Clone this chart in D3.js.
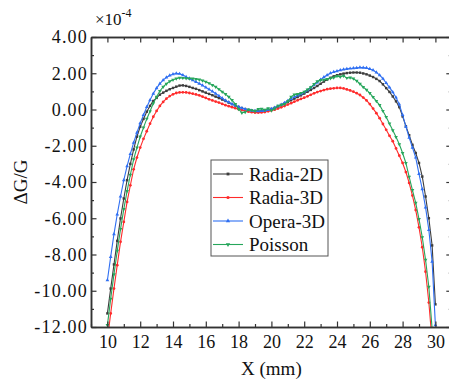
<!DOCTYPE html>
<html>
<head>
<meta charset="utf-8">
<script src="https://cdn.jsdelivr.net/npm/d3@7"></script>
<style>
  html, body { margin: 0; padding: 0; background: #fff; }
  svg { display: block; }
</style>
</head>
<body>
<div id="chart"></div>
<script>
// x positions of the samples (mm), 10 .. 30 every 0.2
const xValues = d3.range(0, 101).map(i => +(10 + i * 0.2).toFixed(1));

// ΔG/G in units of 1e-4
const radia2D = [
  -11.25, -9.88, -8.55, -7.25, -6.01, -4.91, -3.90, -3.00, -2.20, -1.50,
  -0.95, -0.52, -0.12, 0.20, 0.47, 0.64, 0.82, 0.93, 1.03, 1.12,
  1.19, 1.26, 1.32, 1.33, 1.30, 1.25, 1.19, 1.14, 1.07, 1.00,
  0.93, 0.86, 0.79, 0.71, 0.63, 0.55, 0.47, 0.38, 0.30, 0.22,
  0.14, 0.08, 0.02, -0.03, -0.06, -0.08, -0.09, -0.08, -0.06, -0.02,
  0.03, 0.09, 0.16, 0.24, 0.32, 0.41, 0.51, 0.60, 0.69, 0.78,
  0.88, 0.98, 1.08, 1.19, 1.30, 1.42, 1.54, 1.65, 1.75, 1.83,
  1.89, 1.94, 1.98, 2.01, 2.03, 2.04, 2.04, 2.03, 1.99, 1.94,
  1.87, 1.79, 1.69, 1.57, 1.39, 1.18, 0.97, 0.72, 0.45, 0.13,
  -0.38, -0.92, -1.42, -1.95, -2.40, -2.95, -3.70, -4.80, -6.00, -7.50,
  -10.75
];
const radia3D = [
  -12.70, -11.25, -9.88, -8.59, -7.30, -6.20, -5.10, -4.18, -3.30, -2.65,
  -2.10, -1.62, -1.20, -0.78, -0.40, -0.08, 0.20, 0.42, 0.60, 0.74,
  0.84, 0.91, 0.94, 0.95, 0.94, 0.91, 0.87, 0.83, 0.78, 0.71,
  0.64, 0.56, 0.50, 0.44, 0.38, 0.31, 0.24, 0.18, 0.13, 0.07,
  0.02, -0.03, -0.08, -0.12, -0.15, -0.17, -0.17, -0.16, -0.14, -0.10,
  -0.06, -0.01, 0.05, 0.12, 0.19, 0.27, 0.35, 0.43, 0.51, 0.58,
  0.65, 0.73, 0.81, 0.89, 0.96, 1.02, 1.07, 1.12, 1.15, 1.17,
  1.19, 1.19, 1.16, 1.11, 1.05, 0.98, 0.90, 0.80, 0.66, 0.50,
  0.30, 0.05, -0.20, -0.48, -0.80, -1.12, -1.45, -1.75, -2.15, -2.55,
  -2.95, -3.45, -4.05, -4.75, -5.55, -6.50, -7.60, -8.95, -10.65, -12.80,
  -15.00
];
const opera3D = [
  -9.42, -8.13, -6.88, -5.79, -4.80, -3.90, -3.12, -2.45, -1.83, -1.28,
  -0.75, -0.30, 0.14, 0.52, 0.88, 1.18, 1.43, 1.62, 1.77, 1.88,
  1.95, 1.99, 1.97, 1.90, 1.80, 1.71, 1.62, 1.52, 1.43, 1.33,
  1.22, 1.11, 1.00, 0.88, 0.75, 0.62, 0.50, 0.40, 0.30, 0.22,
  0.15, 0.08, 0.02, -0.03, -0.06, -0.08, -0.09, -0.08, -0.06, -0.02,
  0.04, 0.10, 0.18, 0.27, 0.37, 0.48, 0.59, 0.69, 0.78, 0.85,
  0.95, 1.06, 1.20, 1.35, 1.50, 1.65, 1.78, 1.90, 2.00, 2.07,
  2.12, 2.17, 2.21, 2.24, 2.26, 2.28, 2.30, 2.32, 2.31, 2.29,
  2.24, 2.17, 2.05, 1.90, 1.70, 1.46, 1.22, 0.96, 0.66, 0.28,
  -0.30, -0.95, -1.55, -2.10, -2.65, -3.55, -4.40, -5.40, -6.65, -8.40,
  -11.90
];
const poisson = [
  -11.90, -10.45, -9.10, -7.80, -6.60, -5.50, -4.50, -3.60, -2.75, -2.10,
  -1.50, -1.00, -0.52, -0.10, 0.34, 0.70, 1.02, 1.25, 1.42, 1.55,
  1.64, 1.70, 1.75, 1.74, 1.72, 1.71, 1.70, 1.68, 1.65, 1.60,
  1.53, 1.45, 1.35, 1.25, 1.12, 0.98, 0.85, 0.70, 0.52, 0.30,
  0.02, -0.18, -0.15, 0.00, -0.04, -0.09, 0.02, 0.04, -0.02, 0.06,
  -0.06, 0.05, 0.20, 0.26, 0.30, 0.45, 0.70, 0.82, 0.85, 0.90,
  0.98, 1.10, 1.22, 1.40, 1.55, 1.62, 1.64, 1.68, 1.72, 1.76,
  1.84, 1.80, 1.86, 1.74, 1.76, 1.70, 1.58, 1.42, 1.24, 1.08,
  0.90, 0.68, 0.46, 0.24, -0.08, -0.42, -0.78, -1.15, -1.52, -1.92,
  -2.40, -2.95, -3.72, -4.45, -5.15, -6.05, -7.05, -8.30, -9.79, -12.10,
  -14.00
];

const seriesNames = ["Radia-2D", "Radia-3D", "Opera-3D", "Poisson"];
const seriesValues = [radia2D, radia3D, opera3D, poisson];
const seriesColors = ["#3d3d3d", "#ff2b2b", "#2f6ff2", "#26a65b"];
const seriesSymbols = [d3.symbolSquare, d3.symbolCircle, d3.symbolTriangle, d3.symbolTriangle];

const xMajorTicks = [10, 12, 14, 16, 18, 20, 22, 24, 26, 28, 30];
const xMinorTicks = [9, 11, 13, 15, 17, 19, 21, 23, 25, 27, 29, 31];
const yMajorTicks = [-12, -10, -8, -6, -4, -2, 0, 2, 4];
const yMinorTicks = [-11, -9, -7, -5, -3, -1, 1, 3];

const chartWidth = 449;
const chartHeight = 384;
const plot = { left: 91, right: 451.8, top: 37, bottom: 327 };
const axisColor = "#333";
const serif = "'Liberation Serif'";

const svg = d3.select("#chart").append("svg")
  .attr("width", chartWidth)
  .attr("height", chartHeight);

const x = d3.scaleLinear().domain([9, 31]).range([plot.left, plot.right]);
const y = d3.scaleLinear().domain([-12, 4]).range([plot.bottom, plot.top]);

svg.append("clipPath")
  .attr("id", "plot-clip")
  .append("rect")
  .attr("x", plot.left)
  .attr("y", plot.top)
  .attr("width", plot.right - plot.left)
  .attr("height", plot.bottom - plot.top);

// curves
const lineGenerator = d3.line()
  .x(d => x(d[0]))
  .y(d => y(d[1]));

const curves = svg.append("g").attr("clip-path", "url(#plot-clip)");

seriesValues.forEach((values, i) => {
  const points = values.map((v, k) => [xValues[k], v]);
  const g = curves.append("g");

  g.append("path")
    .datum(points)
    .attr("fill", "none")
    .attr("stroke", seriesColors[i])
    .attr("stroke-width", 1.1)
    .attr("d", lineGenerator);

  g.selectAll("path.marker")
    .data(points)
    .join("path")
    .attr("class", "marker")
    .attr("d", d3.symbol().type(seriesSymbols[i]).size(6))
    .attr("fill", seriesColors[i])
    .attr("transform", d => "translate(" + x(d[0]) + "," + y(d[1]) + ")" + (i === 3 ? " rotate(180)" : ""));
});

// axes, ticks pointing inward
function styleAxis(g) {
  g.select(".domain").attr("stroke", axisColor).attr("stroke-width", 1.5);
  g.selectAll(".tick line").attr("stroke", axisColor).attr("stroke-width", 1.2);
  g.selectAll(".tick text")
    .attr("fill", "#111")
    .style("font-family", serif)
    .style("font-size", "18px");
}

function drawAxis(axisFn, translate, majors, minors, format) {
  svg.append("g")
    .attr("transform", translate)
    .call(axisFn.tickValues(minors).tickSizeInner(-3).tickSizeOuter(0).tickFormat(""))
    .call(styleAxis);
  const g = svg.append("g")
    .attr("transform", translate)
    .call(axisFn.tickValues(majors).tickSizeInner(-5.5).tickSizeOuter(0).tickFormat(format));
  g.call(styleAxis);
  return g;
}

drawAxis(d3.axisBottom(x).tickPadding(8), "translate(0," + plot.bottom + ")", xMajorTicks, xMinorTicks, d => d);
drawAxis(d3.axisTop(x), "translate(0," + plot.top + ")", xMajorTicks, xMinorTicks, "");
drawAxis(d3.axisLeft(y).tickPadding(3), "translate(" + plot.left + ",0)", yMajorTicks, yMinorTicks, d => d.toFixed(2))
  .selectAll(".tick text")
  .style("letter-spacing", "1.2px");
drawAxis(d3.axisRight(y), "translate(" + plot.right + ",0)", yMajorTicks, yMinorTicks, "");

// exponent note
const note = svg.append("text")
  .attr("x", 95)
  .attr("y", 25)
  .style("font-family", serif)
  .style("font-size", "17px")
  .attr("fill", "#111");
note.append("tspan").text("×10");
note.append("tspan").attr("dy", -8).style("font-size", "12px").text("-4");

// axis titles
svg.append("text")
  .attr("transform", "translate(27," + (plot.top + plot.bottom) / 2 + ") rotate(-90)")
  .attr("text-anchor", "middle")
  .style("font-family", serif)
  .style("font-size", "19px")
  .attr("fill", "#111")
  .text("ΔG/G");

svg.append("text")
  .attr("x", x(20))
  .attr("y", 375)
  .attr("text-anchor", "middle")
  .style("font-family", serif)
  .style("font-size", "19px")
  .attr("fill", "#111")
  .text("X (mm)");

// legend
const legend = svg.append("g").attr("transform", "translate(211,160)");
legend.append("rect")
  .attr("width", 117)
  .attr("height", 96)
  .attr("fill", "#fff")
  .attr("stroke", "#555")
  .attr("stroke-width", 1);

seriesNames.forEach((name, i) => {
  const row = legend.append("g").attr("transform", "translate(0," + (14 + i * 23.5) + ")");
  row.append("line")
    .attr("x1", 2).attr("x2", 32)
    .attr("stroke", seriesColors[i])
    .attr("stroke-width", 1.1);
  row.append("path")
    .attr("d", d3.symbol().type(seriesSymbols[i]).size(8))
    .attr("fill", seriesColors[i])
    .attr("transform", "translate(17,0)" + (i === 3 ? " rotate(180)" : ""));
  row.append("text")
    .attr("x", 38)
    .attr("y", 6.5)
    .style("font-family", serif)
    .style("font-size", "19px")
    .attr("fill", "#111")
    .text(name);
});
</script>
</body>
</html>
